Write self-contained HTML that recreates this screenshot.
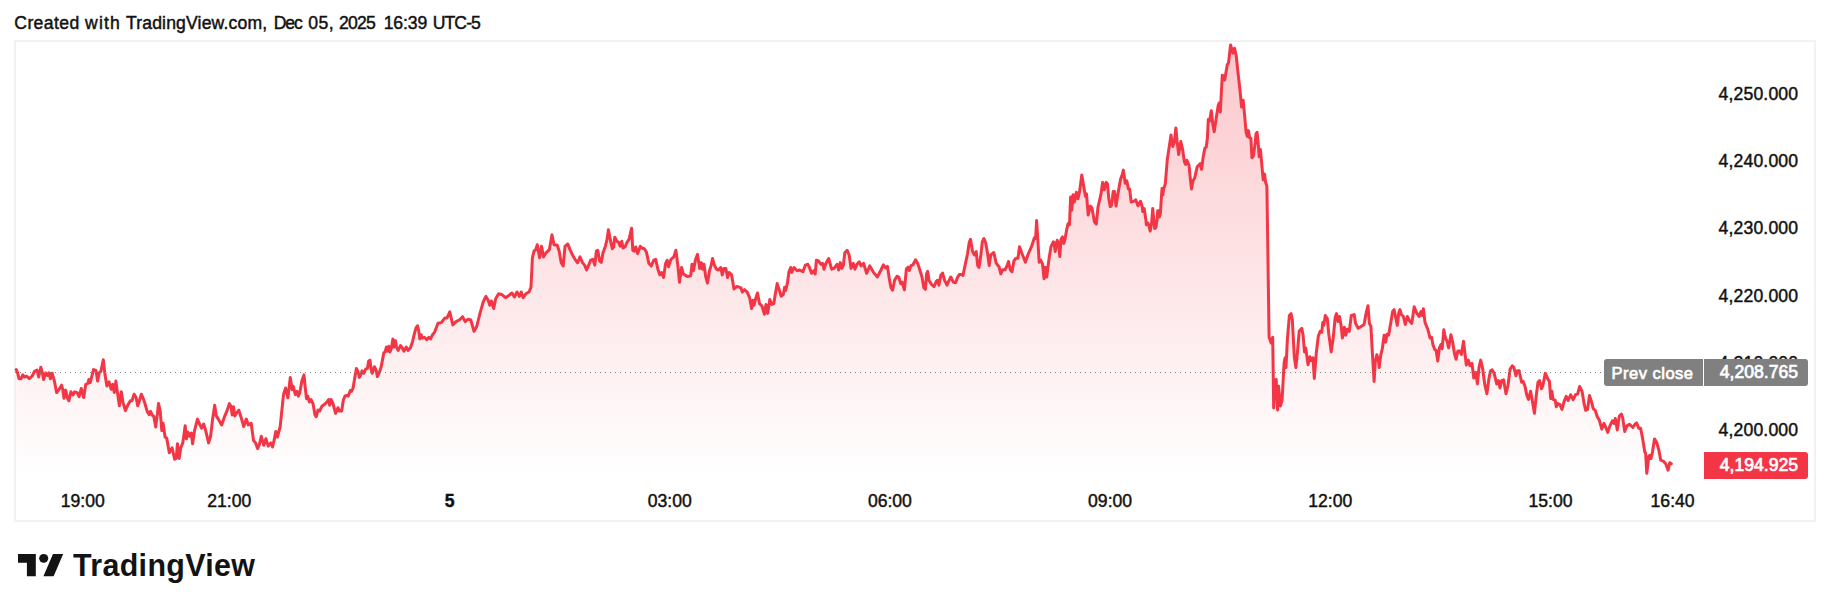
<!DOCTYPE html>
<html><head><meta charset="utf-8"><title>TradingView chart</title>
<style>
html,body{margin:0;padding:0;background:#fff;}
body{width:1830px;height:611px;position:relative;overflow:hidden;font-family:"Liberation Sans",sans-serif;color:#111;-webkit-text-stroke:0.45px #111;}
.hdr{position:absolute;left:0;top:11px;font-size:17.6px;line-height:24px;white-space:nowrap;}
.hdr span{position:absolute;top:0;}
.frame{position:absolute;left:14px;top:40px;width:1798px;height:478px;border:2px solid #f2f2f2;box-sizing:content-box;}
svg.chart{position:absolute;left:0;top:0;}
.tl{position:absolute;top:489px;width:80px;text-align:center;font-size:17.6px;line-height:24px;white-space:nowrap;}
.tl.b{font-weight:bold;}
.pl{position:absolute;left:1690px;width:108.2px;text-align:right;font-size:17.6px;line-height:24px;white-space:nowrap;letter-spacing:0.15px;}
.lab{position:absolute;height:26.8px;line-height:26.8px;font-size:17.6px;color:#fff;-webkit-text-stroke:0.7px #fff;white-space:nowrap;box-sizing:border-box;}
.prev{left:1604.2px;top:359.1px;width:98.6px;background:#808080;border-radius:3px 0 0 3px;padding-left:7.4px;font-size:16.5px;letter-spacing:0.49px;padding-top:0.6px;}
.prevv{left:1704px;top:359.1px;width:104px;background:#808080;border-radius:0 3px 3px 0;text-align:right;padding-right:10px;}
.last{left:1704px;top:452.1px;width:104px;background:#f23645;border-radius:0 3px 3px 0;text-align:right;padding-right:10px;}
.logo{position:absolute;left:17.8px;top:548.9px;}
.brand{position:absolute;left:72.5px;top:548.4px;font-size:30.7px;line-height:36px;font-weight:bold;color:#131313;-webkit-text-stroke:0;white-space:nowrap;transform-origin:0 0;transform:scaleX(0.99);letter-spacing:0.36px;}
</style></head><body>
<div class="hdr"><span style="left:14.3px;letter-spacing:0.38px">Created</span> <span style="left:85.0px;letter-spacing:1.17px">with</span> <span style="left:126.0px;letter-spacing:0.15px">TradingView.com,</span> <span style="left:273.8px;letter-spacing:-1.2px">Dec</span> <span style="left:308.3px;letter-spacing:0.5px">05,</span> <span style="left:339.1px;letter-spacing:-0.8px">2025</span> <span style="left:383.7px;letter-spacing:-0.1px">16:39</span> <span style="left:432.7px;letter-spacing:-0.9px">UTC-5</span></div>
<div class="frame"></div>
<svg class="chart" width="1830" height="611" viewBox="0 0 1830 611">
<defs><linearGradient id="g" gradientUnits="userSpaceOnUse" x1="0" y1="42" x2="0" y2="478">
<stop offset="0" stop-color="#f23645" stop-opacity="0.28"/><stop offset="1" stop-color="#f23645" stop-opacity="0"/></linearGradient></defs>
<path d="M16.2 369.6 L17.4 372.1 L19.0 378.7 L21.1 378.7 L22.8 374.9 L24.4 377.0 L26.4 376.2 L29.3 378.7 L32.1 376.2 L34.6 371.3 L37.0 370.0 L38.7 377.0 L40.8 367.2 L42.4 372.9 L43.6 379.5 L45.7 372.9 L47.3 375.4 L49.0 372.9 L50.4 378.7 L52.1 373.3 L54.2 380.3 L56.7 392.6 L59.1 389.3 L61.6 385.2 L62.7 389.3 L64.0 398.3 L65.7 390.1 L67.3 397.5 L68.9 400.8 L70.9 391.8 L73.0 395.0 L74.7 391.8 L77.1 392.6 L79.1 396.7 L81.2 388.5 L83.7 397.5 L85.7 384.4 L87.8 383.6 L88.9 379.5 L90.2 382.7 L91.9 376.2 L93.5 369.6 L96.0 370.5 L97.6 381.1 L99.2 372.9 L100.9 371.3 L103.3 359.8 L105.0 374.6 L106.9 386.0 L109.1 381.9 L111.2 389.3 L112.8 384.4 L114.3 392.6 L115.9 381.1 L117.6 393.4 L119.4 405.7 L121.3 391.8 L123.0 402.4 L125.4 410.6 L127.9 404.9 L130.4 400.8 L132.0 400.8 L134.1 394.2 L136.1 397.5 L137.7 405.7 L139.4 400.8 L141.3 394.2 L143.5 399.1 L145.1 404.0 L147.2 411.4 L149.2 414.7 L150.5 411.4 L152.5 415.5 L153.8 416.3 L155.7 427.0 L157.4 413.9 L158.5 403.6 L160.2 410.9 L161.8 430.6 L163.1 423.2 L165.1 437.1 L166.7 438.0 L169.3 452.7 L172.1 447.8 L174.6 459.2 L176.2 458.4 L177.5 443.7 L179.1 458.4 L180.8 447.8 L182.8 442.9 L185.2 425.7 L186.4 438.8 L188.0 432.2 L189.6 436.3 L191.3 433.0 L192.6 443.7 L194.5 430.6 L197.5 419.1 L199.9 424.9 L201.6 428.1 L203.7 424.0 L205.7 430.6 L208.6 442.9 L210.6 436.3 L212.6 419.1 L214.7 405.2 L216.3 415.9 L218.8 419.9 L221.7 424.9 L224.5 416.7 L227.0 410.9 L229.4 403.6 L231.1 406.8 L232.2 415.0 L233.5 406.8 L234.8 415.9 L236.8 412.6 L238.8 410.1 L240.9 416.7 L243.7 426.5 L246.3 419.1 L248.3 424.9 L251.2 423.2 L253.5 440.4 L255.6 442.9 L257.6 448.6 L259.4 444.5 L261.3 436.3 L263.8 445.3 L265.9 438.8 L268.2 446.1 L270.8 442.9 L272.5 447.0 L274.1 440.4 L275.8 431.4 L277.4 437.1 L280.2 426.5 L281.8 410.9 L283.5 394.6 L285.6 388.0 L287.9 397.8 L290.3 377.4 L292.1 389.6 L293.3 386.4 L295.4 394.6 L297.0 391.3 L298.3 396.2 L299.9 392.1 L301.9 380.7 L304.0 374.9 L305.2 387.2 L306.5 398.7 L307.8 396.2 L309.4 402.0 L311.0 399.5 L313.0 403.6 L315.0 415.1 L316.3 416.7 L317.9 410.1 L319.6 411.0 L322.0 406.1 L324.5 404.4 L326.9 402.0 L328.6 399.5 L329.7 405.2 L331.0 399.5 L333.0 403.6 L335.6 413.4 L337.9 407.7 L339.5 411.0 L341.7 411.0 L343.3 400.3 L344.9 396.2 L346.6 395.4 L348.2 396.2 L350.3 390.5 L351.5 391.3 L353.1 388.0 L354.8 377.4 L356.4 368.4 L358.0 371.7 L359.4 377.4 L361.0 374.1 L362.1 370.8 L363.8 373.3 L365.7 369.2 L367.4 368.4 L368.7 361.0 L370.0 360.2 L371.1 369.2 L372.3 373.3 L374.4 366.8 L376.1 370.0 L377.4 376.6 L379.3 372.5 L381.0 367.6 L382.6 359.4 L383.8 352.8 L385.1 352.0 L386.4 347.1 L387.5 351.2 L388.7 346.3 L390.0 352.0 L391.3 348.7 L392.9 338.9 L394.1 347.1 L395.4 340.6 L396.5 347.1 L398.2 350.4 L400.6 345.5 L402.3 347.9 L403.9 351.2 L406.3 347.1 L408.0 350.4 L410.4 347.9 L412.6 341.4 L414.5 333.2 L416.2 327.5 L417.5 325.8 L418.6 329.9 L419.8 338.9 L421.1 334.8 L422.4 338.1 L424.4 337.3 L426.8 339.7 L428.9 337.3 L430.6 338.9 L432.5 334.8 L434.5 332.4 L436.1 328.3 L438.0 323.3 L441.3 322.6 L444.6 318.3 L447.2 317.7 L449.8 311.8 L452.8 324.9 L456.0 321.6 L459.3 320.0 L462.6 316.7 L465.2 321.6 L467.8 319.3 L470.8 320.0 L474.0 331.4 L476.7 326.5 L480.0 313.4 L483.2 302.0 L485.9 296.4 L488.2 300.3 L489.8 305.2 L491.4 301.0 L493.7 308.5 L495.7 298.7 L498.6 293.8 L502.2 294.8 L505.5 297.7 L508.8 295.4 L512.0 293.0 L514.4 297.0 L517.0 292.0 L519.3 296.4 L521.2 292.0 L523.2 297.7 L525.8 293.8 L529.0 292.0 L531.0 287.2 L532.4 257.8 L534.0 251.2 L535.7 249.6 L537.3 244.7 L539.6 257.8 L541.5 246.3 L543.5 257.0 L546.0 252.8 L549.4 249.6 L552.0 234.8 L554.0 244.7 L557.3 245.3 L559.2 251.2 L561.2 262.7 L563.2 266.0 L565.0 246.3 L567.8 244.0 L570.0 249.6 L572.3 254.5 L575.0 259.4 L577.6 262.7 L580.0 256.9 L582.5 262.6 L584.6 265.1 L586.6 270.0 L589.0 264.3 L590.7 260.2 L592.8 259.3 L594.8 265.1 L596.4 251.1 L597.7 250.3 L599.7 261.0 L601.3 262.3 L603.0 252.8 L605.4 246.2 L607.0 239.7 L608.4 229.8 L610.3 239.7 L612.3 248.7 L613.6 247.0 L614.8 237.2 L616.9 241.3 L618.5 242.1 L620.2 246.2 L621.8 241.3 L623.0 247.9 L625.0 247.0 L626.7 243.0 L629.2 238.9 L631.6 228.2 L632.8 250.3 L634.4 251.1 L635.7 247.0 L637.7 253.6 L640.3 246.2 L642.3 248.2 L644.3 248.7 L646.4 252.0 L648.9 263.4 L651.3 265.9 L653.8 260.2 L655.7 259.3 L657.9 269.2 L659.8 274.9 L661.5 272.5 L663.6 277.4 L665.6 263.4 L667.2 260.2 L668.5 266.7 L671.0 259.3 L673.8 256.9 L675.9 250.3 L677.9 265.9 L679.5 282.3 L681.6 267.5 L683.3 274.0 L684.9 274.9 L687.4 276.6 L690.7 275.7 L692.0 264.3 L693.4 270.8 L695.6 259.3 L697.5 254.4 L699.7 268.4 L701.3 262.6 L702.6 269.2 L704.0 264.3 L705.7 276.6 L707.5 283.1 L709.5 270.8 L711.0 265.9 L712.5 258.5 L714.4 265.1 L716.4 269.2 L718.5 270.0 L720.7 267.5 L722.3 274.9 L723.9 268.4 L725.9 268.4 L727.5 277.4 L729.2 272.5 L731.6 274.9 L734.0 288.9 L736.9 286.4 L739.0 287.2 L741.0 288.0 L742.3 292.1 L744.4 289.7 L747.2 292.1 L749.7 297.9 L751.6 308.5 L753.0 300.3 L754.0 305.2 L755.7 298.7 L757.5 293.0 L759.5 303.6 L762.0 306.0 L764.4 314.3 L766.0 304.4 L767.7 313.4 L769.8 299.5 L771.8 304.4 L773.8 303.6 L775.4 293.8 L777.2 283.6 L779.2 289.7 L781.1 296.2 L783.3 294.6 L784.6 287.2 L785.7 290.5 L787.4 283.1 L789.0 271.6 L790.7 267.5 L791.8 272.5 L794.0 267.5 L795.6 269.2 L797.2 270.8 L799.3 270.0 L803.0 271.6 L805.4 265.1 L807.9 264.3 L809.5 267.5 L811.5 273.3 L813.6 270.8 L815.2 274.0 L816.4 260.2 L818.5 261.0 L821.0 264.3 L822.6 263.4 L824.0 269.2 L825.9 263.4 L828.7 258.5 L831.6 269.2 L834.0 268.4 L837.0 264.3 L838.7 270.0 L840.3 262.6 L841.8 268.4 L843.4 265.1 L844.8 252.8 L847.2 250.3 L849.2 255.2 L851.0 268.4 L853.3 263.4 L854.9 269.2 L857.0 264.3 L859.2 261.8 L861.1 265.9 L863.6 263.4 L866.6 273.3 L869.8 265.9 L873.3 272.1 L877.4 277.0 L880.7 270.5 L883.4 264.8 L885.6 268.0 L887.5 266.4 L889.3 278.7 L891.0 287.7 L892.6 290.2 L894.6 280.3 L897.0 276.2 L898.7 277.0 L900.7 283.6 L902.0 282.0 L904.4 289.8 L906.4 268.9 L908.0 267.2 L909.3 270.5 L911.0 265.6 L913.0 264.8 L915.6 259.8 L917.9 263.9 L920.0 270.5 L922.0 277.0 L923.8 287.7 L925.4 289.3 L926.6 273.8 L927.7 271.3 L929.0 280.3 L931.5 284.4 L934.0 286.6 L936.4 281.1 L937.5 280.3 L938.9 285.2 L940.8 275.4 L942.5 273.0 L944.6 280.3 L947.0 285.2 L948.7 281.1 L950.8 277.0 L953.3 282.0 L955.6 282.8 L957.7 277.0 L959.3 274.6 L961.5 274.6 L963.0 275.4 L965.0 265.6 L967.5 254.0 L969.2 242.6 L970.5 239.3 L972.5 251.6 L974.4 254.9 L976.2 251.6 L977.7 265.6 L979.0 267.5 L980.7 256.6 L982.3 241.8 L983.9 238.5 L985.6 242.6 L987.7 254.0 L989.2 265.6 L990.8 254.9 L993.8 252.5 L996.2 263.1 L999.2 267.2 L1000.8 273.8 L1002.8 269.7 L1005.2 269.7 L1007.4 264.8 L1008.5 261.5 L1010.2 269.7 L1012.0 271.8 L1014.0 260.7 L1016.0 258.2 L1018.0 258.2 L1019.5 246.7 L1021.6 252.5 L1025.4 262.3 L1028.2 254.0 L1031.5 246.7 L1034.4 237.7 L1035.6 238.5 L1036.6 220.5 L1037.7 237.7 L1039.2 262.3 L1040.5 259.8 L1042.5 263.9 L1044.0 278.7 L1045.4 267.2 L1046.7 277.0 L1049.0 259.0 L1051.0 246.7 L1053.3 241.8 L1054.0 242.6 L1055.2 251.6 L1057.2 240.2 L1058.5 243.4 L1059.8 256.6 L1061.0 239.3 L1062.6 236.9 L1063.8 243.4 L1065.0 239.3 L1066.7 229.5 L1068.0 223.8 L1069.5 224.6 L1070.6 197.1 L1071.8 210.2 L1073.1 194.7 L1074.4 202.0 L1076.4 192.2 L1078.0 198.8 L1079.6 191.4 L1081.8 175.0 L1083.7 186.5 L1085.4 196.3 L1086.5 193.9 L1088.2 215.1 L1090.3 206.1 L1091.9 207.8 L1094.4 221.7 L1096.3 224.1 L1098.0 207.0 L1100.9 194.7 L1102.6 182.4 L1104.2 189.8 L1106.2 182.4 L1107.5 184.0 L1108.8 198.8 L1110.3 206.6 L1111.6 205.3 L1113.2 191.4 L1114.5 191.4 L1116.0 206.1 L1118.1 193.0 L1120.6 179.1 L1121.9 175.8 L1123.4 170.1 L1125.2 183.2 L1126.8 180.8 L1128.4 188.9 L1129.6 188.9 L1131.2 202.0 L1133.7 201.2 L1135.3 200.4 L1135.7 199.8 L1137.9 205.7 L1140.5 201.3 L1142.4 207.5 L1142.7 211.6 L1144.2 208.6 L1146.0 220.8 L1146.4 224.8 L1147.9 223.0 L1149.0 225.9 L1150.2 231.1 L1151.6 223.0 L1152.7 208.6 L1153.8 219.3 L1154.7 228.5 L1156.0 227.4 L1157.1 219.3 L1157.7 210.8 L1158.6 210.8 L1159.3 217.1 L1160.4 213.4 L1161.1 202.4 L1162.0 188.5 L1162.9 194.7 L1163.6 188.9 L1165.3 184.0 L1167.3 159.5 L1169.4 145.6 L1171.0 134.9 L1172.7 146.4 L1174.3 142.3 L1175.9 128.0 L1177.1 141.5 L1178.7 154.6 L1180.8 141.5 L1182.5 148.8 L1184.4 161.9 L1185.8 164.4 L1186.9 160.3 L1189.0 165.2 L1190.2 177.5 L1191.5 188.9 L1193.0 180.8 L1194.6 178.3 L1197.2 166.8 L1198.9 165.2 L1200.3 163.6 L1201.6 169.3 L1203.3 156.2 L1204.9 148.0 L1206.2 147.2 L1207.4 138.2 L1208.3 119.4 L1209.6 121.0 L1211.3 110.7 L1212.9 125.1 L1214.2 131.7 L1215.9 120.2 L1218.2 105.5 L1219.1 103.0 L1220.3 112.0 L1222.3 75.2 L1223.6 76.0 L1224.7 80.1 L1227.3 64.6 L1228.5 62.9 L1230.6 44.9 L1232.9 53.1 L1234.5 48.2 L1236.2 55.6 L1238.0 72.7 L1239.9 89.1 L1241.6 107.1 L1243.2 100.3 L1244.9 118.6 L1246.1 132.3 L1247.3 136.4 L1248.4 130.6 L1249.7 138.0 L1250.9 138.3 L1251.9 157.7 L1253.3 156.0 L1255.0 144.6 L1256.0 133.9 L1257.1 132.3 L1258.3 144.6 L1259.2 156.8 L1260.4 149.5 L1261.5 161.0 L1262.5 172.4 L1263.2 179.8 L1264.5 174.0 L1265.6 182.2 L1266.9 186.3 L1267.4 220.0 L1268.4 290.0 L1269.1 337.2 L1271.1 343.0 L1272.7 337.2 L1273.7 407.9 L1275.0 380.4 L1276.2 379.4 L1277.6 410.0 L1278.6 386.3 L1280.5 405.9 L1282.1 400.0 L1284.1 362.7 L1285.1 357.8 L1286.0 367.6 L1287.4 339.1 L1289.4 315.5 L1291.0 313.6 L1292.3 319.5 L1294.3 356.8 L1295.9 367.6 L1297.2 354.8 L1299.2 331.3 L1301.8 328.3 L1303.1 335.2 L1304.5 351.9 L1305.7 348.0 L1308.1 364.7 L1310.0 356.8 L1311.6 360.7 L1313.0 357.8 L1314.3 378.4 L1316.3 352.9 L1318.3 336.2 L1320.2 331.3 L1321.8 332.2 L1322.8 322.4 L1323.8 325.4 L1325.3 315.5 L1327.3 318.5 L1328.7 333.2 L1331.2 351.9 L1333.2 338.1 L1335.2 317.5 L1336.5 313.6 L1338.1 321.4 L1339.5 316.5 L1341.1 325.4 L1342.4 338.1 L1344.4 327.3 L1345.8 335.2 L1347.4 329.3 L1349.3 331.3 L1351.3 315.5 L1354.2 314.6 L1355.6 323.4 L1358.2 328.3 L1361.1 326.4 L1364.1 324.4 L1366.0 313.6 L1368.0 305.7 L1369.4 323.4 L1370.9 326.4 L1372.5 354.8 L1374.1 381.4 L1375.3 361.7 L1376.8 354.8 L1378.4 359.8 L1379.2 367.6 L1380.8 354.8 L1382.3 348.9 L1384.1 335.2 L1385.7 342.1 L1387.0 334.2 L1388.6 335.2 L1391.0 321.4 L1392.6 311.6 L1394.1 309.6 L1395.7 317.5 L1397.3 325.4 L1398.8 312.6 L1400.0 309.6 L1401.4 314.6 L1403.4 316.5 L1405.3 324.4 L1407.3 316.5 L1409.3 320.5 L1411.8 323.4 L1414.2 306.7 L1416.5 312.6 L1419.1 316.5 L1421.0 311.6 L1422.0 315.5 L1423.4 308.7 L1425.0 322.4 L1428.0 329.8 L1430.0 338.0 L1431.6 337.2 L1432.9 344.6 L1434.8 349.5 L1436.1 350.3 L1437.8 360.9 L1439.4 347.8 L1440.9 344.6 L1442.2 348.7 L1443.8 329.8 L1445.5 338.0 L1447.1 341.3 L1448.7 347.8 L1450.9 334.7 L1452.8 342.9 L1454.5 353.6 L1456.1 359.3 L1457.8 351.1 L1459.7 351.1 L1461.4 354.4 L1463.5 341.3 L1464.8 351.9 L1466.3 365.0 L1468.4 360.1 L1470.0 365.8 L1472.0 363.4 L1473.8 378.1 L1475.8 372.4 L1477.4 383.9 L1479.0 367.5 L1480.7 360.1 L1482.6 368.3 L1484.8 384.7 L1486.9 393.7 L1488.9 378.9 L1490.5 370.8 L1492.1 369.9 L1494.1 373.2 L1496.7 383.9 L1498.4 380.6 L1500.0 388.0 L1501.6 380.6 L1503.6 379.8 L1506.0 393.7 L1508.0 385.5 L1510.1 369.1 L1512.3 365.8 L1513.9 367.5 L1515.9 375.7 L1517.5 370.8 L1519.2 370.8 L1521.6 382.2 L1523.2 381.4 L1525.2 387.1 L1526.8 395.3 L1528.5 399.4 L1530.6 391.2 L1532.2 400.2 L1534.4 413.3 L1536.3 395.3 L1538.0 382.2 L1539.6 380.6 L1541.6 388.8 L1542.9 385.5 L1545.3 373.2 L1547.8 378.9 L1549.4 381.4 L1550.7 398.6 L1551.9 391.2 L1553.0 399.4 L1555.2 400.2 L1556.3 406.8 L1557.9 403.5 L1560.0 404.6 L1562.0 409.5 L1564.1 401.3 L1566.2 396.4 L1568.2 400.5 L1570.6 394.7 L1573.1 399.6 L1575.6 394.7 L1577.7 393.9 L1579.6 386.5 L1582.1 391.5 L1584.1 403.7 L1585.7 410.3 L1587.5 409.5 L1589.5 395.6 L1591.4 401.3 L1593.2 408.7 L1595.2 410.3 L1597.3 416.8 L1599.3 420.1 L1601.8 429.1 L1603.9 423.4 L1605.8 427.5 L1607.8 432.4 L1609.9 425.9 L1612.4 420.9 L1614.0 423.4 L1615.3 418.5 L1617.3 429.9 L1619.3 416.0 L1621.4 414.1 L1622.7 417.7 L1624.7 431.6 L1626.8 425.9 L1629.6 424.2 L1632.9 427.5 L1635.0 424.2 L1636.6 422.9 L1638.9 428.3 L1640.6 428.3 L1642.7 438.9 L1644.8 452.0 L1645.6 452.9 L1646.8 473.3 L1648.8 456.1 L1649.7 455.3 L1650.9 458.6 L1652.5 452.0 L1654.5 438.9 L1656.6 442.2 L1659.1 451.2 L1660.7 460.2 L1663.2 461.1 L1665.6 463.5 L1668.1 470.1 L1669.7 462.7 L1671.3 463.8 L1671.3 478 L16.2 478 Z" fill="url(#g)" stroke="none"/>
<path d="M16.2 369.6 L17.4 372.1 L19.0 378.7 L21.1 378.7 L22.8 374.9 L24.4 377.0 L26.4 376.2 L29.3 378.7 L32.1 376.2 L34.6 371.3 L37.0 370.0 L38.7 377.0 L40.8 367.2 L42.4 372.9 L43.6 379.5 L45.7 372.9 L47.3 375.4 L49.0 372.9 L50.4 378.7 L52.1 373.3 L54.2 380.3 L56.7 392.6 L59.1 389.3 L61.6 385.2 L62.7 389.3 L64.0 398.3 L65.7 390.1 L67.3 397.5 L68.9 400.8 L70.9 391.8 L73.0 395.0 L74.7 391.8 L77.1 392.6 L79.1 396.7 L81.2 388.5 L83.7 397.5 L85.7 384.4 L87.8 383.6 L88.9 379.5 L90.2 382.7 L91.9 376.2 L93.5 369.6 L96.0 370.5 L97.6 381.1 L99.2 372.9 L100.9 371.3 L103.3 359.8 L105.0 374.6 L106.9 386.0 L109.1 381.9 L111.2 389.3 L112.8 384.4 L114.3 392.6 L115.9 381.1 L117.6 393.4 L119.4 405.7 L121.3 391.8 L123.0 402.4 L125.4 410.6 L127.9 404.9 L130.4 400.8 L132.0 400.8 L134.1 394.2 L136.1 397.5 L137.7 405.7 L139.4 400.8 L141.3 394.2 L143.5 399.1 L145.1 404.0 L147.2 411.4 L149.2 414.7 L150.5 411.4 L152.5 415.5 L153.8 416.3 L155.7 427.0 L157.4 413.9 L158.5 403.6 L160.2 410.9 L161.8 430.6 L163.1 423.2 L165.1 437.1 L166.7 438.0 L169.3 452.7 L172.1 447.8 L174.6 459.2 L176.2 458.4 L177.5 443.7 L179.1 458.4 L180.8 447.8 L182.8 442.9 L185.2 425.7 L186.4 438.8 L188.0 432.2 L189.6 436.3 L191.3 433.0 L192.6 443.7 L194.5 430.6 L197.5 419.1 L199.9 424.9 L201.6 428.1 L203.7 424.0 L205.7 430.6 L208.6 442.9 L210.6 436.3 L212.6 419.1 L214.7 405.2 L216.3 415.9 L218.8 419.9 L221.7 424.9 L224.5 416.7 L227.0 410.9 L229.4 403.6 L231.1 406.8 L232.2 415.0 L233.5 406.8 L234.8 415.9 L236.8 412.6 L238.8 410.1 L240.9 416.7 L243.7 426.5 L246.3 419.1 L248.3 424.9 L251.2 423.2 L253.5 440.4 L255.6 442.9 L257.6 448.6 L259.4 444.5 L261.3 436.3 L263.8 445.3 L265.9 438.8 L268.2 446.1 L270.8 442.9 L272.5 447.0 L274.1 440.4 L275.8 431.4 L277.4 437.1 L280.2 426.5 L281.8 410.9 L283.5 394.6 L285.6 388.0 L287.9 397.8 L290.3 377.4 L292.1 389.6 L293.3 386.4 L295.4 394.6 L297.0 391.3 L298.3 396.2 L299.9 392.1 L301.9 380.7 L304.0 374.9 L305.2 387.2 L306.5 398.7 L307.8 396.2 L309.4 402.0 L311.0 399.5 L313.0 403.6 L315.0 415.1 L316.3 416.7 L317.9 410.1 L319.6 411.0 L322.0 406.1 L324.5 404.4 L326.9 402.0 L328.6 399.5 L329.7 405.2 L331.0 399.5 L333.0 403.6 L335.6 413.4 L337.9 407.7 L339.5 411.0 L341.7 411.0 L343.3 400.3 L344.9 396.2 L346.6 395.4 L348.2 396.2 L350.3 390.5 L351.5 391.3 L353.1 388.0 L354.8 377.4 L356.4 368.4 L358.0 371.7 L359.4 377.4 L361.0 374.1 L362.1 370.8 L363.8 373.3 L365.7 369.2 L367.4 368.4 L368.7 361.0 L370.0 360.2 L371.1 369.2 L372.3 373.3 L374.4 366.8 L376.1 370.0 L377.4 376.6 L379.3 372.5 L381.0 367.6 L382.6 359.4 L383.8 352.8 L385.1 352.0 L386.4 347.1 L387.5 351.2 L388.7 346.3 L390.0 352.0 L391.3 348.7 L392.9 338.9 L394.1 347.1 L395.4 340.6 L396.5 347.1 L398.2 350.4 L400.6 345.5 L402.3 347.9 L403.9 351.2 L406.3 347.1 L408.0 350.4 L410.4 347.9 L412.6 341.4 L414.5 333.2 L416.2 327.5 L417.5 325.8 L418.6 329.9 L419.8 338.9 L421.1 334.8 L422.4 338.1 L424.4 337.3 L426.8 339.7 L428.9 337.3 L430.6 338.9 L432.5 334.8 L434.5 332.4 L436.1 328.3 L438.0 323.3 L441.3 322.6 L444.6 318.3 L447.2 317.7 L449.8 311.8 L452.8 324.9 L456.0 321.6 L459.3 320.0 L462.6 316.7 L465.2 321.6 L467.8 319.3 L470.8 320.0 L474.0 331.4 L476.7 326.5 L480.0 313.4 L483.2 302.0 L485.9 296.4 L488.2 300.3 L489.8 305.2 L491.4 301.0 L493.7 308.5 L495.7 298.7 L498.6 293.8 L502.2 294.8 L505.5 297.7 L508.8 295.4 L512.0 293.0 L514.4 297.0 L517.0 292.0 L519.3 296.4 L521.2 292.0 L523.2 297.7 L525.8 293.8 L529.0 292.0 L531.0 287.2 L532.4 257.8 L534.0 251.2 L535.7 249.6 L537.3 244.7 L539.6 257.8 L541.5 246.3 L543.5 257.0 L546.0 252.8 L549.4 249.6 L552.0 234.8 L554.0 244.7 L557.3 245.3 L559.2 251.2 L561.2 262.7 L563.2 266.0 L565.0 246.3 L567.8 244.0 L570.0 249.6 L572.3 254.5 L575.0 259.4 L577.6 262.7 L580.0 256.9 L582.5 262.6 L584.6 265.1 L586.6 270.0 L589.0 264.3 L590.7 260.2 L592.8 259.3 L594.8 265.1 L596.4 251.1 L597.7 250.3 L599.7 261.0 L601.3 262.3 L603.0 252.8 L605.4 246.2 L607.0 239.7 L608.4 229.8 L610.3 239.7 L612.3 248.7 L613.6 247.0 L614.8 237.2 L616.9 241.3 L618.5 242.1 L620.2 246.2 L621.8 241.3 L623.0 247.9 L625.0 247.0 L626.7 243.0 L629.2 238.9 L631.6 228.2 L632.8 250.3 L634.4 251.1 L635.7 247.0 L637.7 253.6 L640.3 246.2 L642.3 248.2 L644.3 248.7 L646.4 252.0 L648.9 263.4 L651.3 265.9 L653.8 260.2 L655.7 259.3 L657.9 269.2 L659.8 274.9 L661.5 272.5 L663.6 277.4 L665.6 263.4 L667.2 260.2 L668.5 266.7 L671.0 259.3 L673.8 256.9 L675.9 250.3 L677.9 265.9 L679.5 282.3 L681.6 267.5 L683.3 274.0 L684.9 274.9 L687.4 276.6 L690.7 275.7 L692.0 264.3 L693.4 270.8 L695.6 259.3 L697.5 254.4 L699.7 268.4 L701.3 262.6 L702.6 269.2 L704.0 264.3 L705.7 276.6 L707.5 283.1 L709.5 270.8 L711.0 265.9 L712.5 258.5 L714.4 265.1 L716.4 269.2 L718.5 270.0 L720.7 267.5 L722.3 274.9 L723.9 268.4 L725.9 268.4 L727.5 277.4 L729.2 272.5 L731.6 274.9 L734.0 288.9 L736.9 286.4 L739.0 287.2 L741.0 288.0 L742.3 292.1 L744.4 289.7 L747.2 292.1 L749.7 297.9 L751.6 308.5 L753.0 300.3 L754.0 305.2 L755.7 298.7 L757.5 293.0 L759.5 303.6 L762.0 306.0 L764.4 314.3 L766.0 304.4 L767.7 313.4 L769.8 299.5 L771.8 304.4 L773.8 303.6 L775.4 293.8 L777.2 283.6 L779.2 289.7 L781.1 296.2 L783.3 294.6 L784.6 287.2 L785.7 290.5 L787.4 283.1 L789.0 271.6 L790.7 267.5 L791.8 272.5 L794.0 267.5 L795.6 269.2 L797.2 270.8 L799.3 270.0 L803.0 271.6 L805.4 265.1 L807.9 264.3 L809.5 267.5 L811.5 273.3 L813.6 270.8 L815.2 274.0 L816.4 260.2 L818.5 261.0 L821.0 264.3 L822.6 263.4 L824.0 269.2 L825.9 263.4 L828.7 258.5 L831.6 269.2 L834.0 268.4 L837.0 264.3 L838.7 270.0 L840.3 262.6 L841.8 268.4 L843.4 265.1 L844.8 252.8 L847.2 250.3 L849.2 255.2 L851.0 268.4 L853.3 263.4 L854.9 269.2 L857.0 264.3 L859.2 261.8 L861.1 265.9 L863.6 263.4 L866.6 273.3 L869.8 265.9 L873.3 272.1 L877.4 277.0 L880.7 270.5 L883.4 264.8 L885.6 268.0 L887.5 266.4 L889.3 278.7 L891.0 287.7 L892.6 290.2 L894.6 280.3 L897.0 276.2 L898.7 277.0 L900.7 283.6 L902.0 282.0 L904.4 289.8 L906.4 268.9 L908.0 267.2 L909.3 270.5 L911.0 265.6 L913.0 264.8 L915.6 259.8 L917.9 263.9 L920.0 270.5 L922.0 277.0 L923.8 287.7 L925.4 289.3 L926.6 273.8 L927.7 271.3 L929.0 280.3 L931.5 284.4 L934.0 286.6 L936.4 281.1 L937.5 280.3 L938.9 285.2 L940.8 275.4 L942.5 273.0 L944.6 280.3 L947.0 285.2 L948.7 281.1 L950.8 277.0 L953.3 282.0 L955.6 282.8 L957.7 277.0 L959.3 274.6 L961.5 274.6 L963.0 275.4 L965.0 265.6 L967.5 254.0 L969.2 242.6 L970.5 239.3 L972.5 251.6 L974.4 254.9 L976.2 251.6 L977.7 265.6 L979.0 267.5 L980.7 256.6 L982.3 241.8 L983.9 238.5 L985.6 242.6 L987.7 254.0 L989.2 265.6 L990.8 254.9 L993.8 252.5 L996.2 263.1 L999.2 267.2 L1000.8 273.8 L1002.8 269.7 L1005.2 269.7 L1007.4 264.8 L1008.5 261.5 L1010.2 269.7 L1012.0 271.8 L1014.0 260.7 L1016.0 258.2 L1018.0 258.2 L1019.5 246.7 L1021.6 252.5 L1025.4 262.3 L1028.2 254.0 L1031.5 246.7 L1034.4 237.7 L1035.6 238.5 L1036.6 220.5 L1037.7 237.7 L1039.2 262.3 L1040.5 259.8 L1042.5 263.9 L1044.0 278.7 L1045.4 267.2 L1046.7 277.0 L1049.0 259.0 L1051.0 246.7 L1053.3 241.8 L1054.0 242.6 L1055.2 251.6 L1057.2 240.2 L1058.5 243.4 L1059.8 256.6 L1061.0 239.3 L1062.6 236.9 L1063.8 243.4 L1065.0 239.3 L1066.7 229.5 L1068.0 223.8 L1069.5 224.6 L1070.6 197.1 L1071.8 210.2 L1073.1 194.7 L1074.4 202.0 L1076.4 192.2 L1078.0 198.8 L1079.6 191.4 L1081.8 175.0 L1083.7 186.5 L1085.4 196.3 L1086.5 193.9 L1088.2 215.1 L1090.3 206.1 L1091.9 207.8 L1094.4 221.7 L1096.3 224.1 L1098.0 207.0 L1100.9 194.7 L1102.6 182.4 L1104.2 189.8 L1106.2 182.4 L1107.5 184.0 L1108.8 198.8 L1110.3 206.6 L1111.6 205.3 L1113.2 191.4 L1114.5 191.4 L1116.0 206.1 L1118.1 193.0 L1120.6 179.1 L1121.9 175.8 L1123.4 170.1 L1125.2 183.2 L1126.8 180.8 L1128.4 188.9 L1129.6 188.9 L1131.2 202.0 L1133.7 201.2 L1135.3 200.4 L1135.7 199.8 L1137.9 205.7 L1140.5 201.3 L1142.4 207.5 L1142.7 211.6 L1144.2 208.6 L1146.0 220.8 L1146.4 224.8 L1147.9 223.0 L1149.0 225.9 L1150.2 231.1 L1151.6 223.0 L1152.7 208.6 L1153.8 219.3 L1154.7 228.5 L1156.0 227.4 L1157.1 219.3 L1157.7 210.8 L1158.6 210.8 L1159.3 217.1 L1160.4 213.4 L1161.1 202.4 L1162.0 188.5 L1162.9 194.7 L1163.6 188.9 L1165.3 184.0 L1167.3 159.5 L1169.4 145.6 L1171.0 134.9 L1172.7 146.4 L1174.3 142.3 L1175.9 128.0 L1177.1 141.5 L1178.7 154.6 L1180.8 141.5 L1182.5 148.8 L1184.4 161.9 L1185.8 164.4 L1186.9 160.3 L1189.0 165.2 L1190.2 177.5 L1191.5 188.9 L1193.0 180.8 L1194.6 178.3 L1197.2 166.8 L1198.9 165.2 L1200.3 163.6 L1201.6 169.3 L1203.3 156.2 L1204.9 148.0 L1206.2 147.2 L1207.4 138.2 L1208.3 119.4 L1209.6 121.0 L1211.3 110.7 L1212.9 125.1 L1214.2 131.7 L1215.9 120.2 L1218.2 105.5 L1219.1 103.0 L1220.3 112.0 L1222.3 75.2 L1223.6 76.0 L1224.7 80.1 L1227.3 64.6 L1228.5 62.9 L1230.6 44.9 L1232.9 53.1 L1234.5 48.2 L1236.2 55.6 L1238.0 72.7 L1239.9 89.1 L1241.6 107.1 L1243.2 100.3 L1244.9 118.6 L1246.1 132.3 L1247.3 136.4 L1248.4 130.6 L1249.7 138.0 L1250.9 138.3 L1251.9 157.7 L1253.3 156.0 L1255.0 144.6 L1256.0 133.9 L1257.1 132.3 L1258.3 144.6 L1259.2 156.8 L1260.4 149.5 L1261.5 161.0 L1262.5 172.4 L1263.2 179.8 L1264.5 174.0 L1265.6 182.2 L1266.9 186.3 L1267.4 220.0 L1268.4 290.0 L1269.1 337.2 L1271.1 343.0 L1272.7 337.2 L1273.7 407.9 L1275.0 380.4 L1276.2 379.4 L1277.6 410.0 L1278.6 386.3 L1280.5 405.9 L1282.1 400.0 L1284.1 362.7 L1285.1 357.8 L1286.0 367.6 L1287.4 339.1 L1289.4 315.5 L1291.0 313.6 L1292.3 319.5 L1294.3 356.8 L1295.9 367.6 L1297.2 354.8 L1299.2 331.3 L1301.8 328.3 L1303.1 335.2 L1304.5 351.9 L1305.7 348.0 L1308.1 364.7 L1310.0 356.8 L1311.6 360.7 L1313.0 357.8 L1314.3 378.4 L1316.3 352.9 L1318.3 336.2 L1320.2 331.3 L1321.8 332.2 L1322.8 322.4 L1323.8 325.4 L1325.3 315.5 L1327.3 318.5 L1328.7 333.2 L1331.2 351.9 L1333.2 338.1 L1335.2 317.5 L1336.5 313.6 L1338.1 321.4 L1339.5 316.5 L1341.1 325.4 L1342.4 338.1 L1344.4 327.3 L1345.8 335.2 L1347.4 329.3 L1349.3 331.3 L1351.3 315.5 L1354.2 314.6 L1355.6 323.4 L1358.2 328.3 L1361.1 326.4 L1364.1 324.4 L1366.0 313.6 L1368.0 305.7 L1369.4 323.4 L1370.9 326.4 L1372.5 354.8 L1374.1 381.4 L1375.3 361.7 L1376.8 354.8 L1378.4 359.8 L1379.2 367.6 L1380.8 354.8 L1382.3 348.9 L1384.1 335.2 L1385.7 342.1 L1387.0 334.2 L1388.6 335.2 L1391.0 321.4 L1392.6 311.6 L1394.1 309.6 L1395.7 317.5 L1397.3 325.4 L1398.8 312.6 L1400.0 309.6 L1401.4 314.6 L1403.4 316.5 L1405.3 324.4 L1407.3 316.5 L1409.3 320.5 L1411.8 323.4 L1414.2 306.7 L1416.5 312.6 L1419.1 316.5 L1421.0 311.6 L1422.0 315.5 L1423.4 308.7 L1425.0 322.4 L1428.0 329.8 L1430.0 338.0 L1431.6 337.2 L1432.9 344.6 L1434.8 349.5 L1436.1 350.3 L1437.8 360.9 L1439.4 347.8 L1440.9 344.6 L1442.2 348.7 L1443.8 329.8 L1445.5 338.0 L1447.1 341.3 L1448.7 347.8 L1450.9 334.7 L1452.8 342.9 L1454.5 353.6 L1456.1 359.3 L1457.8 351.1 L1459.7 351.1 L1461.4 354.4 L1463.5 341.3 L1464.8 351.9 L1466.3 365.0 L1468.4 360.1 L1470.0 365.8 L1472.0 363.4 L1473.8 378.1 L1475.8 372.4 L1477.4 383.9 L1479.0 367.5 L1480.7 360.1 L1482.6 368.3 L1484.8 384.7 L1486.9 393.7 L1488.9 378.9 L1490.5 370.8 L1492.1 369.9 L1494.1 373.2 L1496.7 383.9 L1498.4 380.6 L1500.0 388.0 L1501.6 380.6 L1503.6 379.8 L1506.0 393.7 L1508.0 385.5 L1510.1 369.1 L1512.3 365.8 L1513.9 367.5 L1515.9 375.7 L1517.5 370.8 L1519.2 370.8 L1521.6 382.2 L1523.2 381.4 L1525.2 387.1 L1526.8 395.3 L1528.5 399.4 L1530.6 391.2 L1532.2 400.2 L1534.4 413.3 L1536.3 395.3 L1538.0 382.2 L1539.6 380.6 L1541.6 388.8 L1542.9 385.5 L1545.3 373.2 L1547.8 378.9 L1549.4 381.4 L1550.7 398.6 L1551.9 391.2 L1553.0 399.4 L1555.2 400.2 L1556.3 406.8 L1557.9 403.5 L1560.0 404.6 L1562.0 409.5 L1564.1 401.3 L1566.2 396.4 L1568.2 400.5 L1570.6 394.7 L1573.1 399.6 L1575.6 394.7 L1577.7 393.9 L1579.6 386.5 L1582.1 391.5 L1584.1 403.7 L1585.7 410.3 L1587.5 409.5 L1589.5 395.6 L1591.4 401.3 L1593.2 408.7 L1595.2 410.3 L1597.3 416.8 L1599.3 420.1 L1601.8 429.1 L1603.9 423.4 L1605.8 427.5 L1607.8 432.4 L1609.9 425.9 L1612.4 420.9 L1614.0 423.4 L1615.3 418.5 L1617.3 429.9 L1619.3 416.0 L1621.4 414.1 L1622.7 417.7 L1624.7 431.6 L1626.8 425.9 L1629.6 424.2 L1632.9 427.5 L1635.0 424.2 L1636.6 422.9 L1638.9 428.3 L1640.6 428.3 L1642.7 438.9 L1644.8 452.0 L1645.6 452.9 L1646.8 473.3 L1648.8 456.1 L1649.7 455.3 L1650.9 458.6 L1652.5 452.0 L1654.5 438.9 L1656.6 442.2 L1659.1 451.2 L1660.7 460.2 L1663.2 461.1 L1665.6 463.5 L1668.1 470.1 L1669.7 462.7 L1671.3 463.8" fill="none" stroke="#f23645" stroke-width="3" stroke-linejoin="round" stroke-linecap="round"/>
<line x1="15" y1="372.5" x2="1603" y2="372.5" stroke="#7f7f7f" stroke-width="1" stroke-dasharray="1 4" shape-rendering="crispEdges"/>
</svg>
<div class="pl" style="top:82.4px">4,250.000</div><div class="pl" style="top:149.4px">4,240.000</div><div class="pl" style="top:216.4px">4,230.000</div><div class="pl" style="top:283.5px">4,220.000</div><div class="pl" style="top:350.5px">4,210.000</div><div class="pl" style="top:417.5px">4,200.000</div>
<div class="tl" style="left:42.7px">19:00</div><div class="tl" style="left:189.2px">21:00</div><div class="tl b" style="left:409.7px">5</div><div class="tl" style="left:629.7px">03:00</div><div class="tl" style="left:849.9px">06:00</div><div class="tl" style="left:1070.1px">09:00</div><div class="tl" style="left:1290.3px">12:00</div><div class="tl" style="left:1510.5px">15:00</div><div class="tl" style="left:1632.6px">16:40</div>
<div class="lab prev">Prev close</div>
<div class="lab prevv">4,208.765</div>
<div class="lab last">4,194.925</div>
<svg class="logo" width="45.8" height="34.8" preserveAspectRatio="none" viewBox="0 0 36 28"><path d="M14 22H7V11H0V4h14v18zM28 22h-8l7.500-18h8L28 22z" fill="#131313"/><ellipse cx="20.2" cy="7.5" rx="3.56" ry="3.5" fill="#131313"/></svg>
<div class="brand">TradingView</div>
</body></html>
